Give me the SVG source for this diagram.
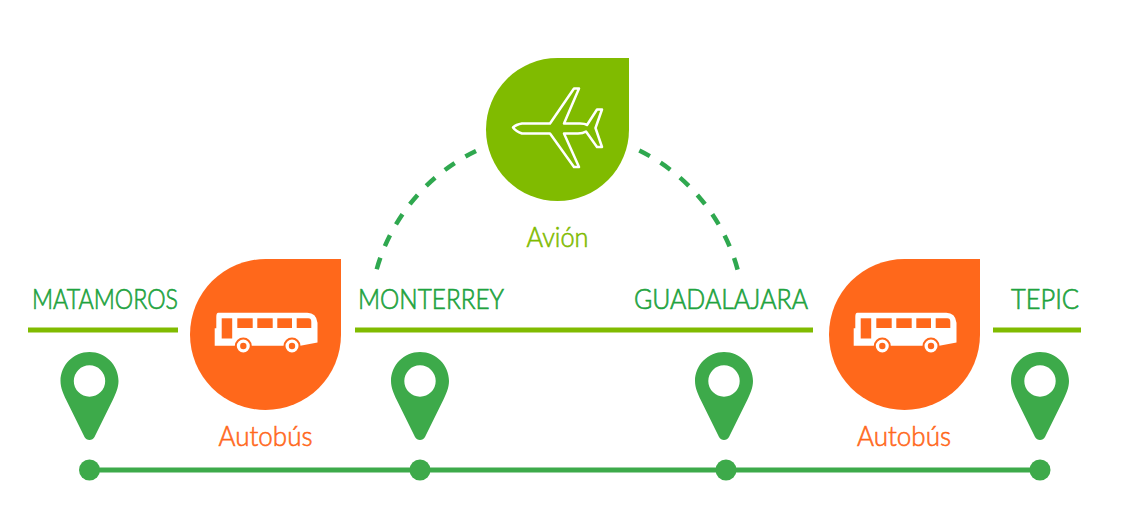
<svg xmlns="http://www.w3.org/2000/svg" width="1140" height="532" viewBox="0 0 1140 532">
<style>
.city{font-family:"Lato","Open Sans",sans-serif;font-size:28px;font-weight:300;fill:#1fa33f;stroke:#1fa33f;stroke-width:.7}
.mode{font-family:"Lato","Open Sans",sans-serif;font-size:27px;font-weight:300;stroke-width:.6}
.or{fill:#ff681b}.gr{fill:#80bb00}.pin{fill:#3daa4a}
.rule{stroke:#80bb00;stroke-width:5;fill:none}
.dash{stroke:#2fa84f;stroke-width:4.500;fill:none;stroke-dasharray:12 12.500}
</style>
<defs>
<path id="pinShape" fill-rule="evenodd" d="M0-29C16-29 29-16 29 0C29 7 26 13 23.500 18.500L5 56C3 60-3 60-5 56L-23.500 18.500C-26 13-29 7-29 0C-29-16-16-29 0-29ZM0-15.700A15.700 15.700 0 1 0 0 15.700A15.700 15.700 0 1 0 0-15.700Z"/>
<g id="bus">
<path fill="#fff" d="M4 0H93Q102 0 103.200 10V29.800L86 33H.4V15.500H2V4Q2 0 4 0Z"/>
<g class="or"><rect x="7.400" y="5.600" width="10.500" height="20.200"/><rect x="23" y="5.600" width="15.400" height="9.700"/><rect x="43" y="5.600" width="15.400" height="9.700"/><rect x="63" y="5.600" width="14.700" height="9.700"/><path d="M82.400 5.600H94Q97 5.600 97 9V15.300H82.400Z"/></g>
<g fill="#fff" stroke="#ff681b" stroke-width="2"><circle cx="29" cy="33.300" r="7.500"/><circle cx="77.700" cy="33.300" r="7.500"/></g>
<circle class="or" cx="29" cy="33.300" r="3.200"/><circle class="or" cx="77.700" cy="33.300" r="3.200"/>
</g>
</defs>
<g id="connectors">
<path class="rule" d="M28 330H178M355 330H813M993 330H1081"/>
<path class="dash" d="M476 151A188 188 0 0 0 375.700 273"/>
<path class="dash" d="M639.300 150.500A188 188 0 0 1 738.500 273"/>
<path d="M90 470H1040" stroke="#3daa4a" stroke-width="5"/>
</g>
<g id="plane-node">
<path class="gr" d="M629 58V129.500A71.500 71.500 0 1 1 557.500 58Z"/>
<path fill="none" stroke="#fff" stroke-width="2.500" stroke-linejoin="round" d="M513 127.500Q516 124.500 522 123.500H550L574 88.500H579L564 123.500H580Q585 123.500 587 125L597 109.500H602L595.500 128L602 147H597L586 131.500Q583 133.500 578 133.500H564L579 167H574L550 133.500H522Q516 131.500 513 127.500Z"/>
<text class="mode" x="557.500" y="247" text-anchor="middle" fill="#80bb00" stroke="#80bb00" textLength="62" lengthAdjust="spacingAndGlyphs">Avión</text>
</g>
<g id="bus-left">
<path class="or" d="M341 259V334.500A75.500 75.500 0 1 1 265.500 259Z"/>
<use href="#bus" x="214.300" y="312.700"/>
<text class="mode" x="265.500" y="446" text-anchor="middle" fill="#ff681b" stroke="#ff681b" textLength="94" lengthAdjust="spacingAndGlyphs">Autobús</text>
</g>
<g id="bus-right">
<path class="or" d="M980 259V334.500A75.500 75.500 0 1 1 904.500 259Z"/>
<use href="#bus" x="853.300" y="312.700"/>
<text class="mode" x="904" y="446" text-anchor="middle" fill="#ff681b" stroke="#ff681b" textLength="94" lengthAdjust="spacingAndGlyphs">Autobús</text>
</g>
<g id="matamoros"><text class="city" x="105" y="309" text-anchor="middle" textLength="146" lengthAdjust="spacingAndGlyphs">MATAMOROS</text><use href="#pinShape" class="pin" x="89.500" y="381"/><circle class="pin" cx="89.500" cy="470" r="10.500"/></g>
<g id="monterrey"><text class="city" x="431" y="309" text-anchor="middle" textLength="146" lengthAdjust="spacingAndGlyphs">MONTERREY</text><use href="#pinShape" class="pin" x="420" y="381"/><circle class="pin" cx="420" cy="470" r="10.500"/></g>
<g id="guadalajara"><text class="city" x="721" y="309" text-anchor="middle" textLength="174" lengthAdjust="spacingAndGlyphs">GUADALAJARA</text><use href="#pinShape" class="pin" x="724" y="381"/><circle class="pin" cx="726" cy="470" r="10.500"/></g>
<g id="tepic"><text class="city" x="1045" y="309" text-anchor="middle" textLength="68" lengthAdjust="spacingAndGlyphs">TEPIC</text><use href="#pinShape" class="pin" x="1040" y="381"/><circle class="pin" cx="1040" cy="470" r="10.500"/></g>
</svg>
